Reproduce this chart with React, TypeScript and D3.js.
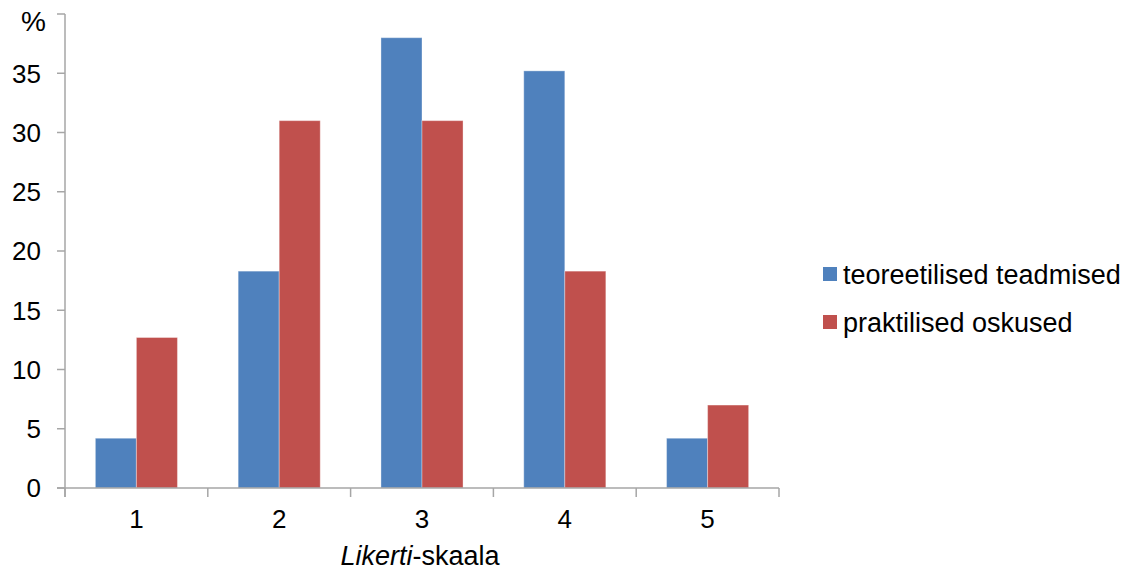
import React from "react";
import * as d3 from "d3";

const categories = ["1", "2", "3", "4", "5"];
const seriesNames = ["teoreetilised teadmised", "praktilised oskused"];
const teoreetilised = [4.2, 18.3, 38.0, 35.2, 4.2];
const praktilised = [12.7, 31.0, 31.0, 18.3, 7.0];
const yTicks = [0, 5, 10, 15, 20, 25, 30, 35];
const colors = ["#4F81BD", "#C0504D"];

const W = 1131;
const H = 573;
const FONT = "Liberation Sans, Arial, sans-serif";

export default function App() {
  const x0 = d3.scaleBand<string>().domain(categories).range([65, 779]).padding(0);
  const x1 = d3
    .scaleBand<string>()
    .domain(seriesNames)
    .range([0, x0.bandwidth()])
    .paddingInner(0)
    .paddingOuter(0.74);
  const y = d3.scaleLinear().domain([0, 40]).range([488, 14]);
  const series = [teoreetilised, praktilised];
  const axisColor = "#A6A6A6";

  const boundaries = categories.map((c) => x0(c) as number).concat([779]);

  return (
    <svg
      width={W}
      height={H}
      style={{ position: "absolute", left: 0, top: 0, background: "#fff" }}
      fontFamily={FONT}
    >
      {/* bars */}
      {categories.map((c, i) => (
        <g key={c} transform={`translate(${x0(c)},0)`}>
          {series.map((vals, s) => (
            <rect
              key={s}
              x={x1(seriesNames[s])}
              y={y(vals[i])}
              width={x1.bandwidth()}
              height={y(0) - y(vals[i])}
              fill={colors[s]}
              stroke="rgba(255,255,255,0.35)"
              strokeWidth={1}
            />
          ))}
        </g>
      ))}

      {/* y axis */}
      <line x1={65} x2={65} y1={14} y2={497} stroke={axisColor} strokeWidth={1.5} />
      {yTicks.concat([40]).map((t) => (
        <line key={t} x1={57} x2={65} y1={y(t)} y2={y(t)} stroke={axisColor} strokeWidth={1.5} />
      ))}
      {yTicks.map((t) => (
        <text
          key={t}
          x={41}
          y={y(t)}
          dy="0.36em"
          textAnchor="end"
          fontSize={26}
          fill="#000"
        >
          {t}
        </text>
      ))}
      <text x={46} y={31} textAnchor="end" fontSize={28} fill="#000">
        %
      </text>

      {/* x axis */}
      <line x1={57} x2={779} y1={y(0)} y2={y(0)} stroke={axisColor} strokeWidth={1.5} />
      {boundaries.map((b, i) => (
        <line key={i} x1={b} x2={b} y1={y(0)} y2={497} stroke={axisColor} strokeWidth={1.5} />
      ))}
      {categories.map((c) => (
        <text
          key={c}
          x={(x0(c) as number) + x0.bandwidth() / 2}
          y={528}
          textAnchor="middle"
          fontSize={26}
          fill="#000"
        >
          {c}
        </text>
      ))}
      <text x={420} y={565} textAnchor="middle" fontSize={27} fill="#000">
        <tspan fontStyle="italic">Likerti</tspan>
        <tspan>-skaala</tspan>
      </text>

      {/* legend */}
      {seriesNames.map((n, i) => (
        <g key={n} transform={`translate(823,${274 + i * 48})`}>
          <rect x={0} y={-7} width={14} height={14} fill={colors[i]} />
          <text x={20} y={0} dy="0.36em" fontSize={27} fill="#000">
            {n}
          </text>
        </g>
      ))}
    </svg>
  );
}
